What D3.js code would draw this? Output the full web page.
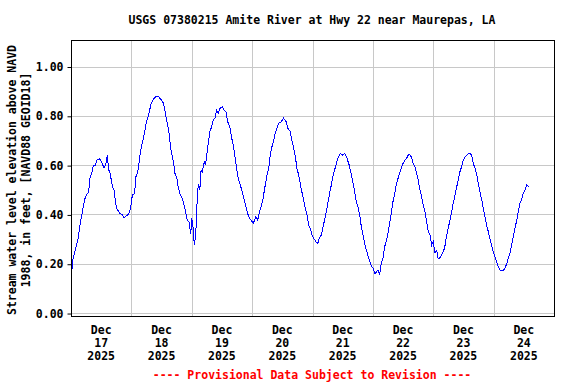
<!DOCTYPE html>
<html>
<head>
<meta charset="utf-8">
<script src="https://cdn.jsdelivr.net/npm/d3@7"></script>
<style>
  body { margin: 0; background: #fff; }
  svg { display: block; }
  text { font-family: "DejaVu Sans Mono", monospace; font-weight: bold; font-size: 11.5px; }
</style>
</head>
<body>
<svg width="576" height="384"></svg>
<script>
const title = "USGS 07380215 Amite River at Hwy 22 near Maurepas, LA"
const yLabel = ["Stream water level elevation above NAVD", "1988, in feet, [NAVD88 GEOID18]"]
const footer = "---- Provisional Data Subject to Revision ----"

// hours after Dec 17 2025 00:00
const hours = [0.4, 0.8, 1.7, 2.8, 3.7, 4.5, 5.4, 6.1, 7.0, 7.6, 8.3, 8.9, 9.7, 10.3, 11.4, 12.0,
  13.1, 13.8, 14.4, 15.0, 15.5, 16.0, 16.6, 17.1, 17.8, 18.4, 19.4, 20.3, 21.1, 22.0, 22.9, 23.7,
  24.4, 25.3, 25.7, 26.4, 26.9, 27.4, 28.0, 28.6, 29.3, 29.9, 30.6, 31.3, 31.9, 33.0, 33.9, 34.9,
  35.9, 36.8, 37.6, 38.3, 39.0, 39.6, 40.3, 40.9, 41.3, 42.1, 42.6, 43.4, 44.2, 44.9, 45.6, 46.2,
  46.9, 47.6, 48.0, 48.5, 49.0, 49.6, 50.1, 50.6, 51.2, 51.7, 52.2, 53.0, 53.5, 54.1, 54.6, 55.2,
  55.9, 56.6, 57.2, 57.9, 58.5, 59.2, 60.1, 60.9, 61.6, 62.3, 63.1, 63.9, 64.5, 65.2, 65.9, 66.5,
  67.3, 68.1, 68.9, 69.6, 70.2, 70.7, 71.5, 72.5, 73.4, 74.2, 74.8, 75.8, 76.2, 77.0, 77.9, 78.6,
  79.2, 79.9, 80.6, 81.2, 81.9, 82.6, 83.6, 84.5, 85.5, 86.2, 87.2, 87.8, 88.5, 89.2, 89.8, 90.5,
  91.1, 91.8, 92.5, 93.1, 93.8, 94.5, 95.1, 95.8, 96.5, 97.4, 98.1, 98.7, 99.5, 100.2, 100.8, 101.5,
  102.1, 102.8, 103.5, 104.1, 104.8, 105.3, 106.1, 107.0, 108.0, 108.8, 109.7, 110.6, 111.3, 112.0,
  112.6, 113.4, 114.1, 114.9, 115.4, 116.1, 116.7, 117.4, 118.0, 118.8, 119.5, 120.2, 120.8, 121.5,
  122.1, 122.7, 123.2, 124.0, 124.7, 125.3, 126.0, 126.7, 127.3, 128.0, 128.7, 129.3, 130.0, 130.6,
  131.3, 132.0, 132.8, 133.4, 134.3, 135.3, 136.0, 136.7, 137.4, 138.0, 138.7, 139.4, 140.0, 140.7,
  141.4, 142.0, 142.7, 143.4, 144.0, 144.7, 145.4, 145.9, 146.5, 147.2, 147.9, 148.5, 149.2, 149.8,
  150.5, 151.2, 151.8, 152.5, 153.1, 153.9, 154.6, 155.3, 155.9, 156.7, 157.7, 158.6, 159.3, 159.9,
  160.6, 161.3, 161.9, 162.6, 163.3, 163.9, 164.6, 165.2, 165.9, 166.5, 167.2, 167.8, 168.5, 169.2,
  169.8, 170.6, 171.6, 172.5, 173.2, 173.8, 174.5, 175.2, 175.8, 176.5, 177.2, 177.8, 178.5, 179.2,
  179.8, 180.5, 181.2, 182.0]

// water level, feet
const levels = [0.18, 0.22, 0.255, 0.30, 0.365, 0.41, 0.46, 0.48, 0.49, 0.55, 0.57, 0.60, 0.60, 0.62, 0.625, 0.615,
  0.59, 0.60, 0.64, 0.58, 0.57, 0.54, 0.51, 0.50, 0.44, 0.42, 0.405, 0.40, 0.385, 0.395, 0.40, 0.425,
  0.48, 0.485, 0.55, 0.57, 0.595, 0.64, 0.675, 0.70, 0.735, 0.77, 0.795, 0.825, 0.85, 0.87, 0.88, 0.877,
  0.864, 0.85, 0.805, 0.77, 0.73, 0.67, 0.635, 0.60, 0.567, 0.546, 0.512, 0.48, 0.465, 0.44, 0.41, 0.377,
  0.37, 0.32, 0.385, 0.35, 0.275, 0.32, 0.445, 0.525, 0.50, 0.58, 0.573, 0.614, 0.60, 0.654, 0.69, 0.735,
  0.756, 0.783, 0.79, 0.823, 0.81, 0.83, 0.837, 0.823, 0.817, 0.776, 0.756, 0.709, 0.68, 0.634, 0.58, 0.546,
  0.52, 0.49, 0.458, 0.43, 0.405, 0.39, 0.377, 0.364, 0.39, 0.377, 0.405, 0.44, 0.455, 0.506, 0.56, 0.587,
  0.64, 0.675, 0.70, 0.73, 0.75, 0.77, 0.776, 0.79, 0.776, 0.75, 0.735, 0.70, 0.67, 0.634, 0.587, 0.56,
  0.526, 0.49, 0.458, 0.425, 0.40, 0.357, 0.344, 0.316, 0.303, 0.289, 0.283, 0.303, 0.316, 0.35, 0.377, 0.41,
  0.445, 0.486, 0.52, 0.553, 0.58, 0.60, 0.628, 0.648, 0.64, 0.648, 0.628, 0.60, 0.567, 0.533,
  0.50, 0.452, 0.43, 0.39, 0.35, 0.316, 0.283, 0.255, 0.235, 0.208, 0.19, 0.18, 0.16, 0.168,
  0.174, 0.154, 0.195, 0.222, 0.27, 0.29, 0.323, 0.364, 0.405, 0.452, 0.486, 0.52, 0.546, 0.567,
  0.587, 0.607, 0.62, 0.628, 0.645, 0.634, 0.607, 0.594, 0.567, 0.54, 0.50, 0.472, 0.438, 0.41,
  0.37, 0.33, 0.316, 0.276, 0.29, 0.242, 0.255, 0.222, 0.222, 0.235, 0.249, 0.262, 0.31, 0.337,
  0.37, 0.405, 0.438, 0.472, 0.50, 0.54, 0.573, 0.594, 0.618, 0.634, 0.645, 0.648, 0.64, 0.607,
  0.587, 0.56, 0.526, 0.49, 0.458, 0.425, 0.39, 0.357, 0.33, 0.303, 0.276, 0.249, 0.228, 0.208,
  0.19, 0.174, 0.172, 0.181, 0.20, 0.222, 0.242, 0.276, 0.31, 0.344, 0.377, 0.41, 0.445, 0.465,
  0.486, 0.50, 0.52, 0.513]

const yTicks = [0, 0.2, 0.4, 0.6, 0.8, 1.0]
const days = [17, 18, 19, 20, 21, 22, 23, 24]

const start = new Date(2025, 11, 17)
const data = hours.map((h, i) => ({date: d3.timeMinute.offset(start, Math.round(h * 60)), value: levels[i]}))

const plotLeft = 71, plotRight = 554, plotTop = 40, plotBottom = 316

const x = d3.scaleTime()
  .domain([start, new Date(2025, 11, 25)])
  .range([plotLeft, plotRight])

const y = d3.scaleLinear()
  .domain([-0.012, 1.1075])
  .range([plotBottom, plotTop])

const svg = d3.select("svg")

svg.append("rect")
  .attr("width", 576).attr("height", 384).attr("fill", "#fff")

// grid
const midnights = d3.range(1, 8).map(i => new Date(2025, 11, 17 + i))
svg.append("g")
  .selectAll("line")
  .data(midnights)
  .join("line")
    .attr("x1", d => Math.round(x(d)) + 0.5)
    .attr("x2", d => Math.round(x(d)) + 0.5)
    .attr("y1", plotTop).attr("y2", plotBottom)
    .attr("stroke", "#c8c8c8")

svg.append("g")
  .selectAll("line")
  .data(yTicks)
  .join("line")
    .attr("x1", plotLeft).attr("x2", plotRight)
    .attr("y1", d => Math.round(y(d)) + 0.5)
    .attr("y2", d => Math.round(y(d)) + 0.5)
    .attr("stroke", "#c8c8c8")

// y axis
const yAxis = svg.append("g")
  .attr("transform", `translate(${plotLeft + 0.5},0.5)`)
  .call(d3.axisLeft(y).tickValues(yTicks).tickFormat(d3.format(".2f")).tickSize(4).tickPadding(4))
yAxis.select(".domain").remove()
yAxis.selectAll("text").attr("fill", "#000")
yAxis.selectAll("line").attr("stroke", "#000")
yAxis.attr("font-size", null).attr("font-family", null)

// x labels at noon
const xl = svg.append("g")
  .selectAll("text")
  .data(days)
  .join("text")
    .attr("text-anchor", "middle")
    .attr("transform", d => `translate(${x(new Date(2025, 11, d, 12))},0)`)
xl.selectAll("tspan")
  .data(d => ["Dec", String(d), "2025"])
  .join("tspan")
    .attr("x", 0)
    .attr("y", (d, i) => 334 + i * 13)
    .text(d => d)

// line
svg.append("path")
  .datum(data)
  .attr("fill", "none")
  .attr("stroke", "#0000ff")
  .attr("stroke-width", 1)
  .attr("shape-rendering", "crispEdges")
  .attr("d", d3.line().x(d => x(d.date)).y(d => y(d.value)))

// frame
svg.append("rect")
  .attr("x", plotLeft + 0.5).attr("y", plotTop + 0.5)
  .attr("width", plotRight - plotLeft).attr("height", plotBottom - plotTop)
  .attr("fill", "none").attr("stroke", "#000")

svg.append("text")
  .attr("x", 312).attr("y", 24)
  .attr("text-anchor", "middle")
  .text(title)

const yl = svg.append("text")
  .attr("transform", "translate(0,180) rotate(-90)")
  .attr("text-anchor", "middle")
yl.selectAll("tspan")
  .data(yLabel)
  .join("tspan")
    .attr("x", 0)
    .attr("y", (d, i) => 16 + i * 14)
    .text(d => d)

svg.append("text")
  .attr("x", 312).attr("y", 379)
  .attr("text-anchor", "middle")
  .attr("fill", "#ff0000")
  .text(footer)
</script>
</body>
</html>
